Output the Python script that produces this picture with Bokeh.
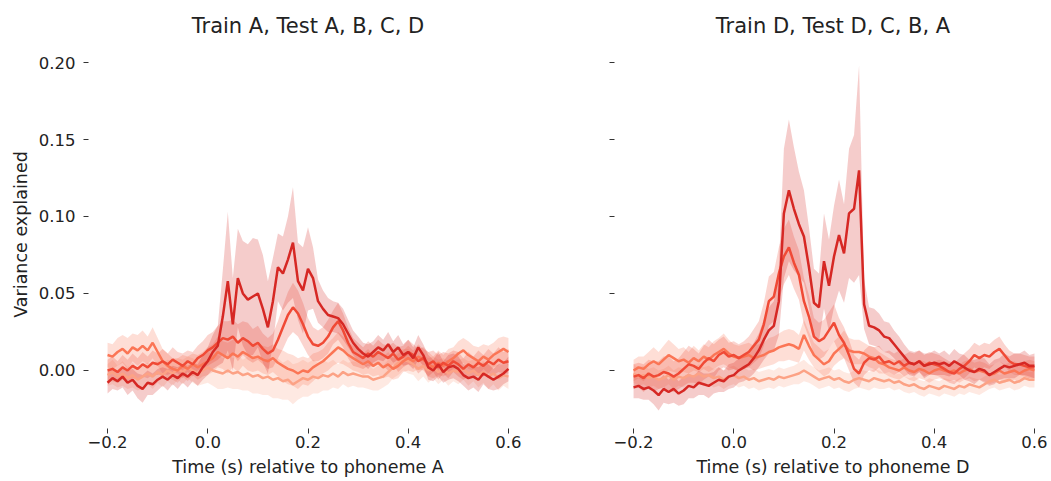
import numpy as np
from bokeh.plotting import figure
from bokeh.layouts import row
from bokeh.models import FixedTicker, CustomJSTickFormatter, Range1d
from bokeh.embed import file_html
from bokeh.resources import INLINE

# time grid (s), -0.2 .. 0.6 in 10 ms steps
times = [round(-0.2 + 0.01 * i, 2) for i in range(81)]

x_ticks = [-0.2, 0.0, 0.2, 0.4, 0.6]
y_ticks = [0.0, 0.05, 0.10, 0.15, 0.20]

# colours from darkest (trained phoneme) to lightest
series_colors = ["#d62824", "#f04a36", "#fb7555", "#fca285"]

# ---------------- Left panel: Train A, Test A, B, C, D ----------------
left_A_mean = [
    -0.008, -0.005, -0.007, -0.004, -0.008, -0.006, -0.010, -0.012, -0.008, -0.009,
    -0.006, -0.004, -0.006, -0.003, -0.005, -0.002, -0.004, -0.001, -0.003, 0.002,
    0.006, 0.012, 0.016, 0.035, 0.058, 0.030, 0.060, 0.050, 0.046, 0.048,
    0.050, 0.040, 0.028, 0.045, 0.067, 0.063, 0.072, 0.083, 0.058, 0.052,
    0.066, 0.060, 0.045, 0.040, 0.036, 0.035, 0.034, 0.030, 0.024, 0.018,
    0.014, 0.011, 0.009, 0.012, 0.015, 0.013, 0.017, 0.012, 0.015, 0.010,
    0.012, 0.008, 0.015, 0.010, 0.002, 0.000, 0.004, -0.001, 0.002, 0.003,
    0.001, -0.003, -0.005, -0.004, -0.006, -0.002, -0.004, -0.006, -0.004, -0.002,
    0.001]
left_A_err = [
    0.007, 0.007, 0.006, 0.007, 0.008, 0.007, 0.008, 0.009, 0.008, 0.007,
    0.007, 0.006, 0.007, 0.006, 0.007, 0.006, 0.007, 0.006, 0.007, 0.008,
    0.009, 0.011, 0.013, 0.030, 0.045, 0.030, 0.032, 0.034, 0.036, 0.038,
    0.035, 0.035, 0.030, 0.028, 0.022, 0.024, 0.028, 0.036, 0.025, 0.028,
    0.027, 0.020, 0.014, 0.012, 0.011, 0.010, 0.010, 0.010, 0.009, 0.008,
    0.008, 0.007, 0.008, 0.007, 0.008, 0.007, 0.008, 0.007, 0.008, 0.007,
    0.008, 0.007, 0.008, 0.007, 0.008, 0.007, 0.008, 0.007, 0.008, 0.008,
    0.008, 0.007, 0.008, 0.007, 0.008, 0.007, 0.008, 0.007, 0.008, 0.007,
    0.008]
left_B_mean = [
    0.000, 0.001, -0.001, 0.002, 0.000, 0.003, 0.001, 0.004, 0.002, 0.005,
    0.004, 0.006, 0.004, 0.007, 0.005, 0.003, 0.006, 0.004, 0.008, 0.010,
    0.013, 0.015, 0.018, 0.021, 0.020, 0.022, 0.018, 0.021, 0.019, 0.016,
    0.018, 0.014, 0.011, 0.013, 0.020, 0.028, 0.036, 0.041, 0.037, 0.030,
    0.022, 0.017, 0.016, 0.018, 0.022, 0.028, 0.032, 0.026, 0.018, 0.012,
    0.010, 0.008, 0.011, 0.009, 0.012, 0.010, 0.008, 0.011, 0.007, 0.009,
    0.012, 0.010, 0.006, 0.008, 0.004, 0.006, 0.002, 0.005, 0.003, 0.006,
    0.004, 0.001, 0.004, 0.002, 0.005, 0.003, 0.006, 0.004, 0.007, 0.005,
    0.006]
left_B_err = [
    0.007, 0.008, 0.007, 0.008, 0.007, 0.008, 0.007, 0.008, 0.007, 0.008,
    0.007, 0.008, 0.007, 0.008, 0.007, 0.008, 0.007, 0.008, 0.008, 0.009,
    0.010, 0.010, 0.011, 0.011, 0.012, 0.011, 0.012, 0.011, 0.012, 0.011,
    0.011, 0.010, 0.010, 0.011, 0.012, 0.014, 0.015, 0.016, 0.015, 0.014,
    0.012, 0.011, 0.010, 0.010, 0.011, 0.011, 0.012, 0.011, 0.010, 0.009,
    0.008, 0.007, 0.008, 0.007, 0.008, 0.007, 0.008, 0.007, 0.008, 0.007,
    0.008, 0.007, 0.008, 0.007, 0.008, 0.007, 0.008, 0.007, 0.008, 0.007,
    0.008, 0.007, 0.008, 0.007, 0.008, 0.007, 0.008, 0.007, 0.008, 0.007,
    0.008]
left_C_mean = [
    0.010, 0.009, 0.012, 0.014, 0.011, 0.015, 0.013, 0.016, 0.013, 0.018,
    0.012, 0.006, 0.003, 0.001, 0.000, 0.003, 0.001, 0.004, 0.002, 0.004,
    0.006, 0.008, 0.012, 0.010, 0.008, 0.011, 0.009, 0.012, 0.010, 0.008,
    0.009, 0.007, 0.006, 0.008, 0.005, 0.003, 0.001, 0.000, -0.002, 0.000,
    -0.001, 0.002, 0.004, 0.006, 0.009, 0.012, 0.015, 0.013, 0.010, 0.008,
    0.006, 0.004, 0.006, 0.003, 0.005, 0.002, 0.004, 0.001, 0.003, 0.006,
    0.008, 0.006, 0.009, 0.007, 0.004, 0.002, 0.005, 0.003, 0.006, 0.008,
    0.011, 0.013, 0.010, 0.008, 0.006, 0.009, 0.007, 0.010, 0.012, 0.014,
    0.012]
left_C_err = [
    0.008, 0.008, 0.009, 0.009, 0.010, 0.009, 0.010, 0.010, 0.009, 0.010,
    0.009, 0.008, 0.008, 0.007, 0.008, 0.007, 0.008, 0.007, 0.008, 0.008,
    0.009, 0.009, 0.010, 0.009, 0.010, 0.009, 0.010, 0.009, 0.010, 0.009,
    0.009, 0.009, 0.009, 0.009, 0.009, 0.010, 0.010, 0.010, 0.010, 0.009,
    0.009, 0.009, 0.008, 0.008, 0.009, 0.009, 0.010, 0.009, 0.008, 0.008,
    0.007, 0.007, 0.008, 0.007, 0.008, 0.007, 0.008, 0.007, 0.008, 0.007,
    0.008, 0.007, 0.008, 0.007, 0.008, 0.007, 0.008, 0.007, 0.008, 0.007,
    0.008, 0.008, 0.009, 0.008, 0.009, 0.008, 0.009, 0.008, 0.009, 0.008,
    0.009]
left_D_mean = [
    -0.003, -0.001, -0.004, -0.002, -0.005, -0.003, -0.006, -0.004, -0.002, -0.004,
    -0.001, -0.003, 0.000, -0.002, 0.001, -0.001, 0.002, 0.000, -0.002, 0.000,
    0.002, 0.000, -0.001, -0.002, 0.000, -0.002, -0.001, -0.003, -0.002, -0.004,
    -0.003, -0.005, -0.004, -0.006, -0.005, -0.007, -0.006, -0.009, -0.007, -0.005,
    -0.006, -0.004, -0.005, -0.003, -0.004, -0.002, -0.004, -0.001, -0.003, -0.002,
    -0.003, -0.004, -0.004, -0.006, -0.005, -0.004, -0.001, 0.002, 0.005, 0.007,
    0.006, 0.004, 0.001, 0.003, 0.000, 0.002, -0.001, 0.001, -0.002, 0.000,
    -0.001, 0.001, -0.002, 0.000, -0.003, -0.001, -0.004, -0.002, -0.005, -0.003,
    -0.004]
left_D_err = [
    0.007, 0.008, 0.007, 0.008, 0.007, 0.008, 0.007, 0.008, 0.007, 0.008,
    0.007, 0.008, 0.007, 0.008, 0.007, 0.008, 0.007, 0.008, 0.008, 0.009,
    0.010, 0.010, 0.011, 0.010, 0.011, 0.010, 0.011, 0.010, 0.011, 0.011,
    0.012, 0.011, 0.012, 0.012, 0.013, 0.012, 0.013, 0.013, 0.012, 0.012,
    0.011, 0.011, 0.010, 0.010, 0.009, 0.009, 0.008, 0.008, 0.008, 0.008,
    0.008, 0.007, 0.008, 0.007, 0.008, 0.007, 0.008, 0.007, 0.008, 0.007,
    0.008, 0.007, 0.008, 0.007, 0.008, 0.007, 0.008, 0.007, 0.008, 0.007,
    0.008, 0.007, 0.008, 0.007, 0.008, 0.007, 0.008, 0.007, 0.008, 0.007,
    0.008]

# ---------------- Right panel: Train D, Test D, C, B, A ----------------
right_D_mean = [
    -0.011, -0.010, -0.012, -0.011, -0.013, -0.016, -0.012, -0.014, -0.012, -0.015,
    -0.013, -0.010, -0.011, -0.008, -0.009, -0.010, -0.008, -0.006, -0.007, -0.004,
    -0.003, 0.000, 0.002, 0.004, 0.008, 0.013, 0.020, 0.026, 0.029, 0.045,
    0.102, 0.117, 0.105, 0.095, 0.087, 0.067, 0.044, 0.041, 0.071, 0.055,
    0.074, 0.088, 0.076, 0.102, 0.105, 0.130, 0.043, 0.029, 0.028, 0.026,
    0.022, 0.021, 0.017, 0.013, 0.009, 0.005, 0.004, 0.006, 0.003, 0.004,
    0.005, 0.004, 0.005, 0.003, 0.006, 0.004, 0.002, 0.000, -0.001, 0.001,
    0.000, -0.003, -0.001, 0.001, 0.003, 0.002, 0.003, 0.004, 0.005, 0.003,
    0.003]
right_D_err = [
    0.007, 0.008, 0.007, 0.008, 0.009, 0.010, 0.009, 0.008, 0.009, 0.008,
    0.009, 0.008, 0.007, 0.008, 0.007, 0.008, 0.007, 0.008, 0.007, 0.008,
    0.008, 0.008, 0.009, 0.009, 0.010, 0.011, 0.013, 0.015, 0.016, 0.022,
    0.042, 0.046, 0.040, 0.034, 0.030, 0.026, 0.022, 0.022, 0.031, 0.030,
    0.033, 0.036, 0.032, 0.042, 0.048, 0.068, 0.016, 0.012, 0.012, 0.011,
    0.010, 0.010, 0.009, 0.009, 0.008, 0.008, 0.008, 0.007, 0.008, 0.007,
    0.008, 0.007, 0.008, 0.007, 0.008, 0.007, 0.008, 0.007, 0.008, 0.007,
    0.008, 0.007, 0.008, 0.007, 0.008, 0.007, 0.008, 0.007, 0.008, 0.007,
    0.008]
right_C_mean = [
    -0.004, -0.003, -0.005, -0.002, -0.004, -0.003, -0.001, -0.002, -0.004, -0.002,
    0.001, 0.004, 0.003, 0.001, 0.005, 0.008, 0.006, 0.010, 0.012, 0.009,
    0.010, 0.008, 0.010, 0.012, 0.016, 0.020, 0.030, 0.045, 0.048, 0.063,
    0.074, 0.080, 0.070, 0.062, 0.045, 0.035, 0.022, 0.019, 0.021, 0.026,
    0.031, 0.023, 0.018, 0.010, 0.001, -0.002, 0.005, 0.008, 0.007, 0.009,
    0.005, 0.006, 0.004, 0.006, 0.003, 0.005, 0.004, 0.006, 0.003, 0.005,
    0.004, 0.003, 0.001, -0.001, -0.002, 0.001, 0.003, 0.006, 0.010, 0.008,
    0.010, 0.009, 0.012, 0.014, 0.010, 0.006, 0.004, 0.004, 0.003, 0.002,
    0.002]
right_C_err = [
    0.008, 0.008, 0.009, 0.009, 0.010, 0.009, 0.010, 0.011, 0.010, 0.010,
    0.011, 0.012, 0.011, 0.010, 0.011, 0.012, 0.011, 0.010, 0.010, 0.009,
    0.009, 0.009, 0.009, 0.010, 0.011, 0.012, 0.014, 0.016, 0.016, 0.017,
    0.018, 0.018, 0.017, 0.016, 0.015, 0.014, 0.012, 0.012, 0.012, 0.012,
    0.012, 0.011, 0.010, 0.010, 0.009, 0.009, 0.008, 0.008, 0.008, 0.007,
    0.007, 0.007, 0.007, 0.007, 0.007, 0.007, 0.007, 0.007, 0.007, 0.007,
    0.007, 0.007, 0.007, 0.007, 0.007, 0.007, 0.008, 0.008, 0.008, 0.008,
    0.008, 0.008, 0.008, 0.008, 0.007, 0.007, 0.007, 0.007, 0.007, 0.007,
    0.007]
right_B_mean = [
    0.000, 0.002, 0.001, 0.004, 0.006, 0.004, 0.007, 0.010, 0.008, 0.006,
    0.007, 0.005, 0.008, 0.006, 0.009, 0.007, 0.010, 0.012, 0.014, 0.011,
    0.009, 0.008, 0.009, 0.010, 0.008, 0.009, 0.010, 0.012, 0.013, 0.015,
    0.016, 0.017, 0.016, 0.014, 0.023, 0.016, 0.010, 0.007, 0.004, 0.006,
    0.011, 0.014, 0.017, 0.013, 0.012, 0.012, 0.011, 0.009, 0.008, 0.005,
    0.004, 0.002, 0.001, 0.000, 0.002, 0.000, -0.001, 0.001, 0.000, -0.002,
    0.000, 0.001, 0.000, -0.001, 0.000, -0.002, 0.000, 0.001, -0.001, 0.000,
    -0.001, -0.003, -0.002, 0.000, -0.002, -0.001, 0.000, -0.002, 0.000, 0.001,
    0.000]
right_B_err = [
    0.007, 0.007, 0.008, 0.008, 0.009, 0.008, 0.009, 0.010, 0.009, 0.008,
    0.008, 0.007, 0.008, 0.007, 0.008, 0.008, 0.009, 0.009, 0.010, 0.009,
    0.008, 0.008, 0.008, 0.008, 0.008, 0.008, 0.008, 0.009, 0.009, 0.009,
    0.010, 0.010, 0.010, 0.009, 0.010, 0.009, 0.008, 0.008, 0.008, 0.008,
    0.008, 0.008, 0.009, 0.008, 0.008, 0.008, 0.007, 0.007, 0.007, 0.007,
    0.006, 0.006, 0.006, 0.006, 0.006, 0.006, 0.006, 0.006, 0.006, 0.006,
    0.006, 0.006, 0.006, 0.006, 0.006, 0.006, 0.006, 0.006, 0.006, 0.006,
    0.006, 0.006, 0.006, 0.006, 0.006, 0.006, 0.006, 0.006, 0.006, 0.006,
    0.006]
right_A_mean = [
    -0.002, -0.004, -0.003, -0.005, -0.004, -0.006, -0.005, -0.003, -0.006, -0.004,
    -0.005, -0.003, -0.004, -0.002, -0.004, -0.003, -0.005, -0.004, -0.006, -0.004,
    -0.003, -0.005, -0.004, -0.006, -0.005, -0.007, -0.006, -0.005, -0.006, -0.004,
    -0.005, -0.004, -0.003, -0.002, 0.000, -0.002, -0.004, -0.006, -0.005, -0.004,
    -0.006, -0.005, -0.007, -0.008, -0.006, -0.005, -0.006, -0.007, -0.005, -0.006,
    -0.007, -0.006, -0.008, -0.007, -0.009, -0.010, -0.009, -0.011, -0.012, -0.010,
    -0.011, -0.012, -0.010, -0.011, -0.012, -0.010, -0.011, -0.009, -0.010, -0.011,
    -0.009, -0.007, -0.006, -0.008, -0.007, -0.006, -0.008, -0.007, -0.005, -0.006,
    -0.006]
right_A_err = [
    0.006, 0.006, 0.006, 0.006, 0.006, 0.006, 0.006, 0.006, 0.006, 0.006,
    0.006, 0.006, 0.006, 0.006, 0.006, 0.006, 0.006, 0.006, 0.006, 0.006,
    0.006, 0.006, 0.006, 0.006, 0.006, 0.006, 0.006, 0.006, 0.006, 0.006,
    0.006, 0.006, 0.006, 0.007, 0.007, 0.006, 0.006, 0.006, 0.006, 0.006,
    0.006, 0.006, 0.006, 0.006, 0.006, 0.006, 0.006, 0.006, 0.006, 0.006,
    0.005, 0.005, 0.005, 0.005, 0.005, 0.005, 0.005, 0.005, 0.005, 0.005,
    0.005, 0.005, 0.005, 0.005, 0.005, 0.005, 0.005, 0.005, 0.005, 0.005,
    0.005, 0.005, 0.005, 0.005, 0.005, 0.005, 0.005, 0.005, 0.005, 0.005,
    0.005]

left_means = {"A": left_A_mean, "B": left_B_mean, "C": left_C_mean, "D": left_D_mean}
left_errs = {"A": left_A_err, "B": left_B_err, "C": left_C_err, "D": left_D_err}
right_means = {"A": right_A_mean, "B": right_B_mean, "C": right_C_mean, "D": right_D_mean}
right_errs = {"A": right_A_err, "B": right_B_err, "C": right_C_err, "D": right_D_err}

# test order: first (trained phoneme) gets the darkest colour
left_order = ["A", "B", "C", "D"]
right_order = ["D", "C", "B", "A"]

FONT = "DejaVu Sans"
Y0, Y1 = -0.0377, 0.2143


def make_panel(title, xlabel, means, errs, order, width, border_left, x_end, ylabels):
    p = figure(width=width, height=481, x_range=Range1d(-0.238, x_end),
               y_range=Range1d(Y0, Y1), output_backend="svg", toolbar_location=None,
               min_border_left=border_left, min_border_right=0,
               min_border_top=40, min_border_bottom=53)
    p.outline_line_color = None
    p.grid.visible = False
    p.background_fill_color = "white"
    p.border_fill_color = "white"

    t = np.array(times)
    pairs = list(zip(order, series_colors))
    for key, col in reversed(pairs):
        m = np.array(means[key])
        e = np.array(errs[key])
        p.varea(x=t, y1=m - e, y2=m + e, fill_color=col, fill_alpha=0.24)
    for key, col in reversed(pairs):
        p.line(t, means[key], line_color=col, line_width=2.5)

    p.title.text = title
    p.title.align = "center"
    p.title.offset = 10
    p.title.text_font = FONT
    p.title.text_font_size = "21px"
    p.title.text_font_style = "normal"
    p.title.text_color = "#222222"
    p.title.standoff = 6

    for ax in (p.xaxis[0], p.yaxis[0]):
        ax.axis_line_color = None
        ax.major_tick_in = 0
        ax.major_tick_out = 5
        ax.minor_tick_in = 0
        ax.minor_tick_out = 0
        ax.major_tick_line_color = "#333333"
        ax.major_label_text_font = FONT
        ax.major_label_text_font_size = "16.5px"
        ax.major_label_text_color = "#222222"
        ax.axis_label_text_font = FONT
        ax.axis_label_text_font_size = "17.5px"
        ax.axis_label_text_font_style = "normal"
        ax.axis_label_text_color = "#222222"

    p.xaxis.ticker = FixedTicker(ticks=x_ticks)
    p.xaxis.formatter = CustomJSTickFormatter(code="return tick.toFixed(1).replace('-', '\u2212');")
    p.xaxis.axis_label = xlabel
    p.xaxis.major_label_standoff = 2
    p.xaxis.axis_label_standoff = 6

    p.yaxis.ticker = FixedTicker(ticks=y_ticks)
    if ylabels:
        p.yaxis.formatter = CustomJSTickFormatter(code="return tick.toFixed(2);")
        p.yaxis.axis_label = "Variance explained"
        p.yaxis.major_label_standoff = 8
        p.yaxis.axis_label_standoff = 5
    else:
        p.yaxis.formatter = CustomJSTickFormatter(code="return '';")
        p.yaxis.major_label_standoff = 0
    return p


p1 = make_panel("Train A, Test A, B, C, D", "Time (s) relative to phoneme A",
                left_means, left_errs, left_order, 527, 88, 0.638, True)
p2 = make_panel("Train D, Test D, C, B, A", "Time (s) relative to phoneme D",
                right_means, right_errs, right_order, 524, 87, 0.634, False)

layout = row(p1, p2)
with open("out.html", "w", encoding="utf-8") as f:
    f.write(file_html(layout, INLINE))
